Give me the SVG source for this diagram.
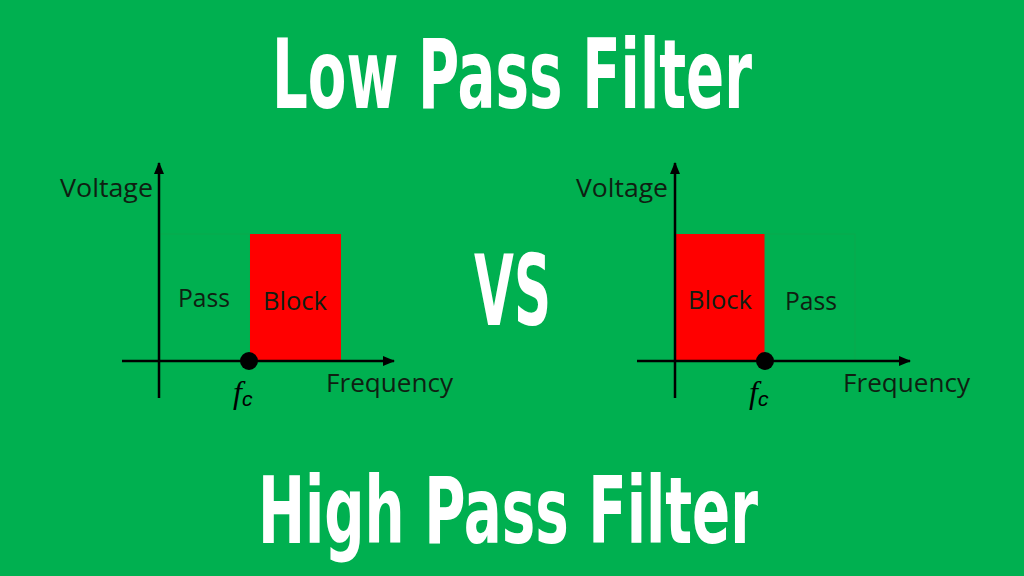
<svg xmlns="http://www.w3.org/2000/svg" width="1024" height="576" viewBox="0 0 1024 576">
<defs>
<style>
.title{font-family:"DejaVu Sans Condensed","DejaVu Sans",sans-serif;font-weight:bold;fill:#ffffff;}
.lbl{font-family:"Open Sans","Liberation Sans",sans-serif;font-size:25px;fill:#0f1f12;}
.axis{stroke:#000;stroke-width:2.5;fill:none;}
.block{fill:#ff0000;}
.pass{fill:#00b050;stroke:#0aa84c;stroke-width:1;}
.fc{font-family:"Liberation Serif",serif;font-style:italic;fill:#000;}
</style>
<marker id="arr" viewBox="0 0 12 10" refX="11" refY="5" markerWidth="12" markerHeight="10" markerUnits="userSpaceOnUse" orient="auto">
<path d="M0,0 L12,5 L0,10 Z" fill="#000"/>
</marker>
</defs>
<rect width="1024" height="576" fill="#00b050"/>
<g id="title-top"><text class="title" x="272" y="108" font-size="96" textLength="480" lengthAdjust="spacingAndGlyphs">Low Pass Filter</text></g>
<g id="vs"><text class="title" x="474" y="325" font-size="98" textLength="77" lengthAdjust="spacingAndGlyphs">VS</text></g>
<g id="title-bottom"><text class="title" x="258" y="543" font-size="92" textLength="500" lengthAdjust="spacingAndGlyphs">High Pass Filter</text></g>

<g id="lpf-chart">
<rect class="pass" x="160" y="234" width="90" height="127"/>
<rect class="block" x="250" y="234" width="91" height="127"/>
<text class="lbl" x="178" y="307" textLength="52" lengthAdjust="spacingAndGlyphs">Pass</text>
<text class="lbl" x="263" y="310" textLength="64" lengthAdjust="spacingAndGlyphs">Block</text>
<text class="lbl" x="60" y="197" textLength="93" lengthAdjust="spacingAndGlyphs">Voltage</text>
<text class="lbl" x="326" y="392" textLength="127" lengthAdjust="spacingAndGlyphs">Frequency</text>
<text class="fc" x="233" y="403" font-size="32">f<tspan font-size="21" dy="3" font-family="Liberation Sans, sans-serif">c</tspan></text>
</g>

<g id="hpf-chart">
<rect class="block" x="675" y="234" width="90" height="127"/>
<rect class="pass" x="765" y="234" width="90" height="127"/>
<text class="lbl" x="688" y="309" textLength="64" lengthAdjust="spacingAndGlyphs">Block</text>
<text class="lbl" x="785" y="310" textLength="52" lengthAdjust="spacingAndGlyphs">Pass</text>
<text class="lbl" x="576" y="197" textLength="92" lengthAdjust="spacingAndGlyphs">Voltage</text>
<text class="lbl" x="843" y="392" textLength="127" lengthAdjust="spacingAndGlyphs">Frequency</text>
<text class="fc" x="749" y="403" font-size="32">f<tspan font-size="21" dy="3" font-family="Liberation Sans, sans-serif">c</tspan></text>
</g>

<g id="connectors">
<line class="axis" x1="159" y1="398" x2="159" y2="163" marker-end="url(#arr)"/>
<line class="axis" x1="122" y1="361" x2="394" y2="361" marker-end="url(#arr)"/>
<circle cx="249" cy="361" r="9" fill="#000"/>
<line class="axis" x1="675" y1="398" x2="675" y2="163" marker-end="url(#arr)"/>
<line class="axis" x1="637" y1="361" x2="910" y2="361" marker-end="url(#arr)"/>
<circle cx="765" cy="361" r="9" fill="#000"/>
</g>
</svg>
